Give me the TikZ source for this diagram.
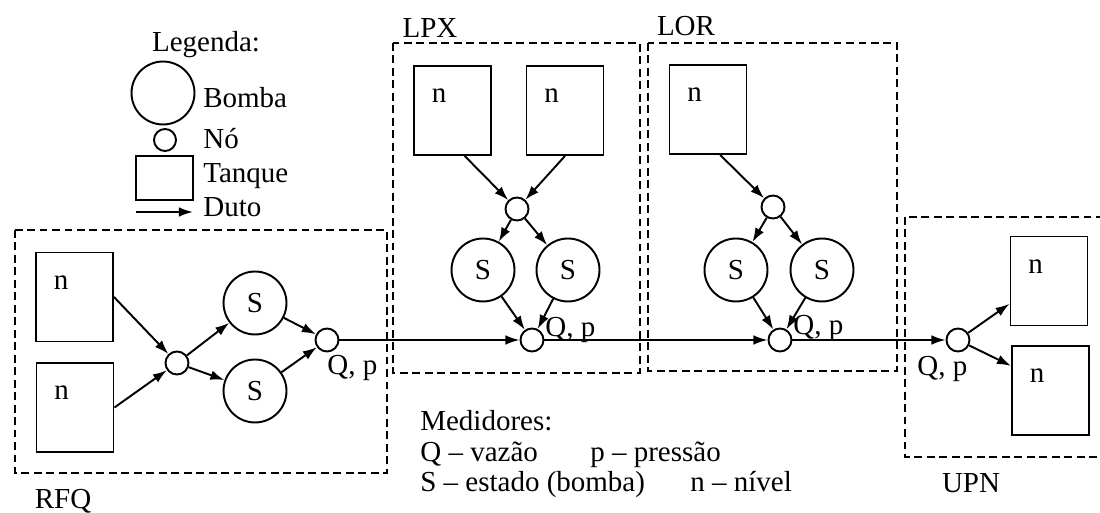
\documentclass[tikz,border=0pt]{standalone}
\usepackage{fontspec}
\setmainfont{Liberation Serif}
\usetikzlibrary{arrows.meta,positioning}
\tikzset{basic/.style={draw,line width=1.1pt,inner sep=0pt}}
\tikzset{pump/.style={basic,circle,minimum size=1.26cm}}
\tikzset{junction/.style={basic,circle,minimum size=0.46cm}}
\tikzset{tank/.style={basic,rectangle,minimum width=1.54cm,minimum height=1.78cm}}
\tikzset{nivel/.style={label={[anchor=center,xshift=0.52cm,yshift=-0.62cm]north west:n}}}
\tikzset{duct/.style={draw,line width=1.1pt,-{Latex[length=8pt,width=5.5pt]}}}
\tikzset{zone/.style={draw,line width=1.2pt,dash pattern=on 4.5pt off 2.6pt}}
\tikzset{tag/.style={anchor=base west,inner sep=0pt}}

\begin{document}
\begin{tikzpicture}[x=0.02cm,y=-0.02cm,font=\fontsize{16.5}{19}\selectfont]
    \useasboundingbox (0,0) rectangle (1100,513);

    % legenda
    \node[anchor=base] (leg) at (206,52) {Legenda:};
    \node[pump] (legP) at (163,93) {};
    \node[tag] (legPt) at (203,108) {Bomba};
    \node[junction,minimum size=0.44cm] (legN) at (165,140) {};
    \node[tag] (legNt) at (203,149) {Nó};
    \node[basic,minimum width=1.14cm,minimum height=0.88cm] (legT) at (164.5,178) {};
    \node[tag] (legTt) at (203,183) {Tanque};
    \coordinate (legD1) at (136,212);
    \coordinate (legD2) at (193,212);
    \node[tag] (legDt) at (203,217) {Duto};
        \path[duct] (legD1) -- (legD2);

    % RFQ
    \draw[zone] (15,230) rectangle (387,473);
    \node[anchor=base] (rfq) at (63,509) {RFQ};
    \node[tank,nivel] (rfqT1) at (74.5,297) {};
    \node[tank,nivel] (rfqT2) at (75,407.5) {};
    \node[junction] (rfqN) at (177,363) {};
    \node[pump] (rfqP1) at (255,303) {S};
    \node[pump] (rfqP2) at (255,391) {S};
    \node[junction] (rfqO) at (327,340) {};
    \node[tag] (rfqQ) at (327,375) {Q, p};
        \path[duct] (rfqT1.east) -- (rfqN);
        \path[duct] (rfqT2.east) -- (rfqN);
        \path[duct] (rfqN) -- (rfqP1);
        \path[duct] (rfqN) -- (rfqP2);
        \path[duct] (rfqP1) -- (rfqO);
        \path[duct] (rfqP2) -- (rfqO);

    % LPX
    \draw[zone] (393,43) rectangle (640,373);
    \node[anchor=base] (lpx) at (430,38) {LPX};
    \node[tank,nivel] (lpxT1) at (452.5,110.5) {};
    \node[tank,nivel] (lpxT2) at (565,110.5) {};
    \node[junction] (lpxN) at (517,209) {};
    \node[pump] (lpxP1) at (483,270) {S};
    \node[pump] (lpxP2) at (568,270) {S};
    \node[junction] (lpxO) at (532,340) {};
    \node[tag] (lpxQ) at (545,337) {Q, p};
        \path[duct] (lpxT1.-75) -- (lpxN);
        \path[duct] (lpxT2.south) -- (lpxN);
        \path[duct] (lpxN) -- (lpxP1);
        \path[duct] (lpxN) -- (lpxP2);
        \path[duct] (lpxP1) -- (lpxO);
        \path[duct] (lpxP2) -- (lpxO);

    % LOR
    \draw[zone] (648,43) rectangle (897,371);
    \node[anchor=base] (lor) at (686,36) {LOR};
    \node[tank,nivel] (lorT) at (708,109.5) {};
    \node[junction] (lorN) at (773,207) {};
    \node[pump] (lorP1) at (736,270) {S};
    \node[pump] (lorP2) at (822,270) {S};
    \node[junction] (lorO) at (780,340) {};
    \node[tag] (lorQ) at (793,335) {Q, p};
        \path[duct] (lorT.-75) -- (lorN);
        \path[duct] (lorN) -- (lorP1);
        \path[duct] (lorN) -- (lorP2);
        \path[duct] (lorP1) -- (lorO);
        \path[duct] (lorP2) -- (lorO);

    % UPN
    \draw[zone] (905,217) rectangle (1120,457);
    \node[anchor=base] (upn) at (971,493) {UPN};
    \node[junction] (upnN) at (958,340) {};
    \node[tag] (upnQ) at (917,376) {Q, p};
    \node[tank,nivel] (upnT1) at (1049,281) {};
    \node[tank,nivel] (upnT2) at (1050.5,390.5) {};
        \path[duct] (upnN) -- (upnT1.-150);
        \path[duct] (upnN) -- (upnT2.148);

    % duto principal
        \path[duct] (rfqO) -- (lpxO);
        \path[duct] (lpxO) -- (lorO);
        \path[duct] (lorO) -- (upnN);

    % medidores
    \node[tag] (med) at (420,431) {Medidores:};
    \node[tag] (medQ) at (420,461) {Q -- vazão};
    \node[tag] (medP) at (590,461) {p -- pressão};
    \node[tag] (medS) at (420,492) {S -- estado (bomba)};
    \node[tag] (medN) at (690,492) {n -- nível};
\end{tikzpicture}
\end{document}
